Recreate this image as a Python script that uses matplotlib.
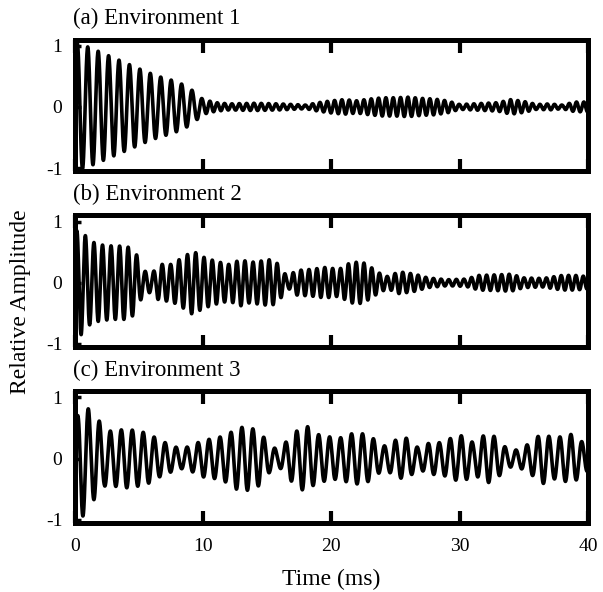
import matplotlib
matplotlib.use("Agg")
import matplotlib.pyplot as plt
import numpy as np

plt.rcParams['font.family'] = ['Liberation Serif', 'DejaVu Serif']

# panel titles and axis text
titles = ['(a) Environment 1', '(b) Environment 2', '(c) Environment 3']
x_ticks = [0, 10, 20, 30, 40]
y_ticks = [-1, 0, 1]

# envelope of each recording (time in ms, relative amplitude)
env_a_t = [0, 0.8, 1.6, 2.5, 3.5, 4.5, 5.5, 6.5, 7.5, 8.5, 9.3, 10, 11, 12, 14, 16, 18, 19, 20,
           21, 22, 23, 24, 25, 26, 27, 28, 29, 30, 31, 32, 33, 34, 35, 36, 37, 38, 39, 40]
env_a = [1.05, 1.0, 0.93, 0.85, 0.76, 0.67, 0.58, 0.5, 0.44, 0.36, 0.25, 0.12, 0.07, 0.05, 0.06,
         0.05, 0.03, 0.07, 0.1, 0.12, 0.1, 0.13, 0.15, 0.15, 0.16, 0.14, 0.13, 0.1, 0.04, 0.05,
         0.06, 0.07, 0.12, 0.09, 0.04, 0.05, 0.03, 0.08, 0.08]

env_b_t = [0, 0.5, 1.2, 2, 3, 4, 4.7, 5.3, 6, 6.6, 7.5, 8.5, 9.2, 10, 11, 12, 13, 13.6, 14.7,
           15.3, 15.9, 16.6, 17.2, 18.5, 19.5, 20.6, 21.5, 22.4, 23.1, 23.8, 24.4, 25.3, 26.5,
           27.5, 29, 30.5, 31.5, 33, 34, 35, 36.5, 38, 39, 40]
env_b = [0.85, 0.85, 0.68, 0.62, 0.6, 0.6, 0.52, 0.2, 0.15, 0.3, 0.3, 0.42, 0.52, 0.42, 0.35,
         0.3, 0.38, 0.33, 0.36, 0.38, 0.3, 0.08, 0.2, 0.22, 0.25, 0.22, 0.33, 0.34, 0.25, 0.15,
         0.1, 0.18, 0.14, 0.08, 0.05, 0.06, 0.12, 0.13, 0.14, 0.08, 0.07, 0.12, 0.12, 0.1]

env_c_t = [0, 0.5, 0.9, 1.3, 1.8, 2.3, 3, 4, 5, 5.8, 6.6, 7.5, 8.2, 9, 10, 11, 12, 12.6, 13.5,
           14.4, 15.2, 15.9, 16.5, 17.1, 18, 18.8, 19.7, 20.6, 21.4, 22.2, 23.1, 23.9, 24.5, 25,
           25.8, 26.8, 27.7, 28.6, 29.4, 30.3, 31.1, 31.9, 32.5, 33.8, 34.6, 35.7, 36.4, 37.3,
           38.8, 39.5, 40]
env_c = [0.5, 0.96, 0.9, 0.68, 0.66, 0.45, 0.45, 0.48, 0.45, 0.4, 0.3, 0.22, 0.16, 0.2, 0.3,
         0.33, 0.4, 0.5, 0.52, 0.44, 0.22, 0.13, 0.28, 0.42, 0.55, 0.4, 0.36, 0.33, 0.4, 0.42,
         0.36, 0.2, 0.22, 0.3, 0.34, 0.17, 0.26, 0.26, 0.34, 0.38, 0.25, 0.38, 0.4, 0.14, 0.14,
         0.28, 0.42, 0.33, 0.4, 0.28, 0.2]

# ringing frequency (kHz) read from peak spacing
freq_a_t = [0, 9.5, 10.5, 40]
freq_a = [1.23, 1.23, 1.75, 1.75]
freq_b_t = [0, 5, 15, 40]
freq_b = [1.5, 1.5, 1.6, 1.75]
freq_c_t = [0, 40]
freq_c = [1.17, 1.17]


def make_wave(env_t, env, f_t, f):
    t = np.linspace(0, 40, 8000)
    dt = t[1] - t[0]
    fr = np.interp(t, f_t, f)
    phase = 2 * np.pi * np.cumsum(fr) * dt
    return t, np.interp(t, env_t, env) * np.sin(phase)


waves = [make_wave(env_a_t, env_a, freq_a_t, freq_a),
         make_wave(env_b_t, env_b, freq_b_t, freq_b),
         make_wave(env_c_t, env_c, freq_c_t, freq_c)]

fig = plt.figure(figsize=(6.03, 5.92), dpi=100)
bottoms = [0.711, 0.414, 0.117]

for i in range(3):
    ax = fig.add_axes([0.124, bottoms[i], 0.851, 0.222])
    t, y = waves[i]
    ax.plot(t, y, color='black', linewidth=2.6)
    ax.set_xlim(0, 40)
    ax.set_ylim(-1.05, 1.1)
    ax.set_xticks(x_ticks)
    ax.set_yticks(y_ticks)
    ax.set_yticklabels([str(v) for v in y_ticks])
    ax.tick_params(axis='x', direction='in', top=True, bottom=True, length=9, width=3,
                   labelsize=14, pad=11)
    ax.tick_params(axis='y', direction='in', left=True, right=False, length=4, width=2.5,
                   labelsize=14, pad=9)
    if i < 2:
        ax.set_xticklabels([])
    for s in ax.spines.values():
        s.set_linewidth(3.6)
    ax.set_title(titles[i], loc='left', fontsize=16.5, pad=11, x=-0.004)

ax.set_xlabel('Time (ms)', fontsize=17, labelpad=10)
fig.text(0.034, 0.49, 'Relative Amplitude', rotation=90, fontsize=17, va='center', ha='center')

plt.savefig('out.png', dpi=100)
